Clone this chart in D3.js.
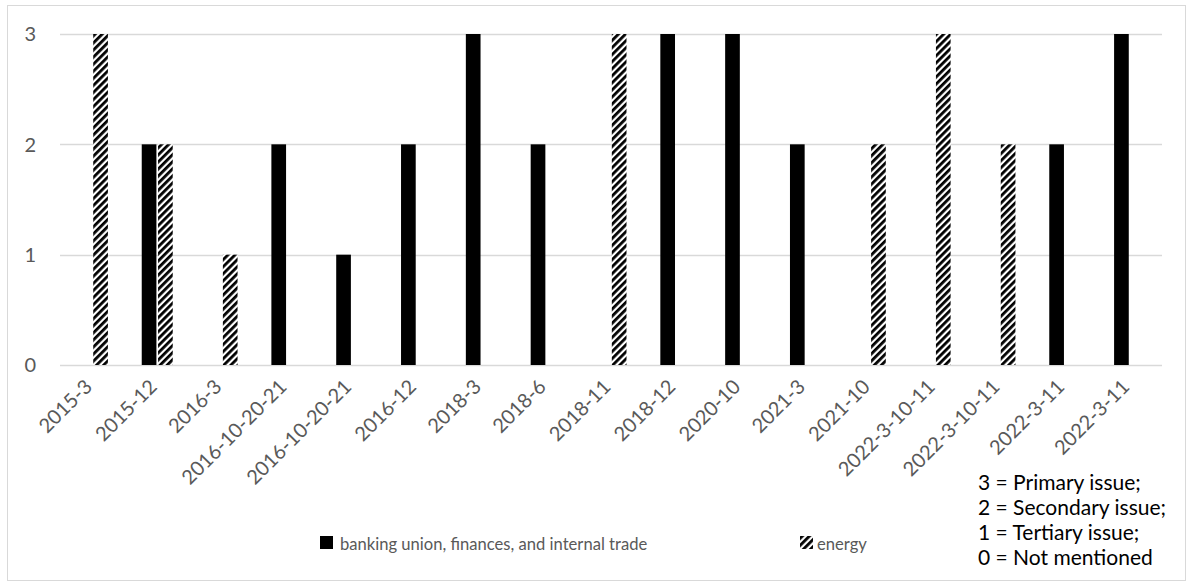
<!DOCTYPE html>
<html>
<head>
<meta charset="utf-8">
<script src="https://cdn.jsdelivr.net/npm/d3@7"></script>
<style>
  body { margin: 0; background: #fff; }
  .tick-label { font-family: Lato, "Open Sans", sans-serif; fill: #595959; }
</style>
</head>
<body>
<div class="chart-container"></div>
<script>
var width = 1186;
var height = 581;

// data
var categories = ["2015-3", "2015-12", "2016-3", "2016-10-20-21", "2016-10-20-21", "2016-12",
  "2018-3", "2018-6", "2018-11", "2018-12", "2020-10", "2021-3", "2021-10",
  "2022-3-10-11", "2022-3-10-11", "2022-3-11", "2022-3-11"];
var banking = [0, 2, 0, 2, 1, 2, 3, 2, 0, 3, 3, 2, 0, 0, 0, 2, 3];
var energy = [3, 2, 1, 0, 0, 0, 0, 0, 3, 0, 0, 0, 2, 3, 2, 0, 0];
var yTicks = [0, 1, 2, 3];
var seriesNames = ["banking union, finances, and internal trade", "energy"];
var noteLines = ["3 = Primary issue;", "2 = Secondary issue;", "1 = Tertiary issue;", "0 = Not mentioned"];

var plotLeft = 60, plotRight = 1162, plotTop = 34, plotBottom = 365;

var svg = d3.select(".chart-container")
  .append("svg")
  .attr("width", width)
  .attr("height", height);

var defs = svg.append("defs");
var pat = defs.append("pattern")
  .attr("id", "hatch")
  .attr("patternUnits", "userSpaceOnUse")
  .attr("width", 5)
  .attr("height", 5)
  .attr("patternTransform", "rotate(45)");
pat.append("rect").attr("width", 5).attr("height", 5).attr("fill", "#fff");
pat.append("rect").attr("width", 2.8).attr("height", 5).attr("fill", "#000");

// outer frame
svg.append("rect")
  .attr("x", 7.5).attr("y", 5.5)
  .attr("width", 1178).attr("height", 575)
  .attr("fill", "none")
  .attr("stroke", "#d9d9d9");

var xScale = d3.scaleBand()
  .domain(d3.range(categories.length))
  .range([plotLeft, plotRight]);
var bw = xScale.bandwidth();
var xInner = d3.scaleBand()
  .domain(["banking", "energy"])
  .range([bw / 2 - 15.5, bw / 2 + 15.5])
  .paddingInner(0.1);
var yScale = d3.scaleLinear()
  .domain([0, 3])
  .range([plotBottom, plotTop]);

// gridlines
svg.append("g")
  .selectAll("line")
  .data(yTicks)
  .enter().append("line")
  .attr("x1", plotLeft).attr("x2", plotRight)
  .attr("y1", function(d) { return Math.round(yScale(d)) + 0.5; })
  .attr("y2", function(d) { return Math.round(yScale(d)) + 0.5; })
  .attr("stroke", "#d9d9d9")
  .attr("stroke-width", 1.5);

svg.append("g")
  .selectAll("text")
  .data(yTicks)
  .enter().append("text")
  .attr("class", "tick-label")
  .attr("x", 36)
  .attr("y", function(d) { return yScale(d); })
  .attr("dy", "0.36em")
  .attr("text-anchor", "end")
  .style("font-size", "20px")
  .text(function(d) { return d; });

var bars = svg.append("g");
bars.selectAll(".bank")
  .data(banking)
  .enter().append("rect")
  .attr("class", "bank")
  .attr("x", function(d, i) { return xScale(i) + xInner("banking"); })
  .attr("width", xInner.bandwidth())
  .attr("y", function(d) { return yScale(d); })
  .attr("height", function(d) { return yScale(0) - yScale(d); })
  .attr("fill", "#000");

bars.selectAll(".energy")
  .data(energy)
  .enter().append("rect")
  .attr("class", "energy")
  .attr("x", function(d, i) { return xScale(i) + xInner("energy"); })
  .attr("width", xInner.bandwidth())
  .attr("y", function(d) { return yScale(d); })
  .attr("height", function(d) { return yScale(0) - yScale(d); })
  .attr("fill", "url(#hatch)");

// x labels, rotated
svg.append("g")
  .selectAll("text")
  .data(categories)
  .enter().append("text")
  .attr("class", "tick-label")
  .attr("text-anchor", "end")
  .style("font-size", "20px")
  .attr("transform", function(d, i) {
    return "translate(" + (xScale(i) + bw / 2 + 1) + "," + (plotBottom + 23) + ") rotate(-45)";
  })
  .text(function(d) { return d; });

// legend
var legend = svg.append("g");
legend.append("rect")
  .attr("x", 320).attr("y", 536).attr("width", 13).attr("height", 13)
  .attr("fill", "#000");
legend.append("text")
  .attr("class", "tick-label")
  .attr("x", 340).attr("y", 550)
  .style("font-size", "16.6px")
  .text(seriesNames[0]);
legend.append("rect")
  .attr("x", 800).attr("y", 536).attr("width", 13).attr("height", 13)
  .attr("fill", "url(#hatch)");
legend.append("text")
  .attr("class", "tick-label")
  .attr("x", 817).attr("y", 550)
  .style("font-size", "16.6px")
  .text(seriesNames[1]);

// scale note
svg.append("g")
  .selectAll("text")
  .data(noteLines)
  .enter().append("text")
  .attr("x", 978)
  .attr("y", function(d, i) { return 490 + i * 25; })
  .style("font-family", "Lato, sans-serif")
  .style("font-size", "21px")
  .attr("fill", "#000")
  .text(function(d) { return d; });
</script>
</body>
</html>
